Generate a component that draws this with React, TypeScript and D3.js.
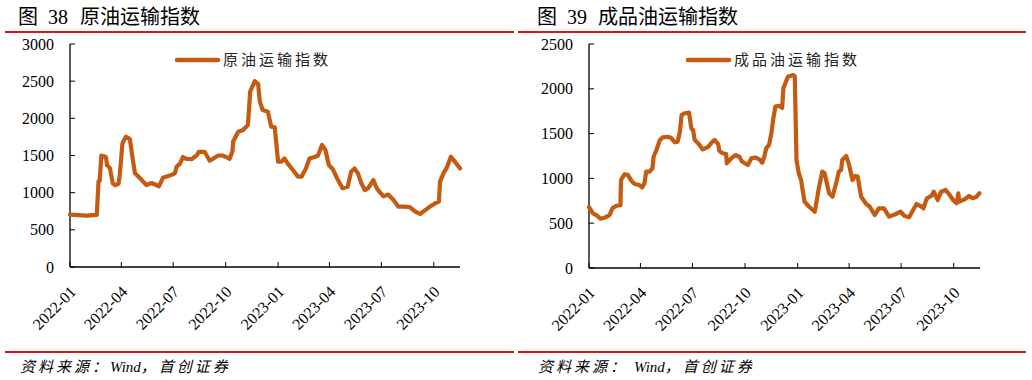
import React from 'react';
import * as d3 from 'd3';

const crudeDates = [
  '2022-01-01','2022-01-30','2022-02-17','2022-02-20','2022-02-22','2022-02-25','2022-03-05','2022-03-07','2022-03-12','2022-03-17',
  '2022-03-21','2022-03-27','2022-03-29','2022-04-03','2022-04-09','2022-04-16','2022-04-21','2022-04-25','2022-05-03','2022-05-15',
  '2022-05-24','2022-06-02','2022-06-06','2022-06-13','2022-06-25','2022-07-04','2022-07-07','2022-07-13','2022-07-18','2022-07-24',
  '2022-08-02','2022-08-11','2022-08-15','2022-08-25','2022-09-03','2022-09-18','2022-09-25','2022-10-02','2022-10-08','2022-10-13',
  '2022-10-14','2022-10-23','2022-10-31','2022-11-09','2022-11-13','2022-11-21','2022-11-27','2022-11-30','2022-12-05','2022-12-14',
  '2022-12-20','2022-12-26','2023-01-01','2023-01-07','2023-01-12','2023-01-18','2023-01-27','2023-02-05','2023-02-11','2023-02-19',
  '2023-02-25','2023-03-06','2023-03-12','2023-03-19','2023-03-25','2023-03-31','2023-04-07','2023-04-16','2023-04-24','2023-05-03',
  '2023-05-09','2023-05-15','2023-05-21','2023-05-27','2023-06-02','2023-06-08','2023-06-17','2023-06-23','2023-06-29','2023-07-05',
  '2023-07-13','2023-07-22','2023-07-31','2023-08-09','2023-08-20','2023-08-29','2023-09-07','2023-09-16','2023-09-24','2023-10-03',
  '2023-10-10','2023-10-12','2023-10-18','2023-10-24','2023-10-31','2023-11-07','2023-11-16'
];
const crudeValues = [
  705, 690, 700, 1150, 1160, 1500, 1480, 1370, 1330, 1126,
  1100, 1120, 1215, 1664, 1753, 1720, 1450, 1260, 1200, 1103,
  1130, 1100, 1085, 1200, 1230, 1260, 1350, 1390, 1480, 1455,
  1450, 1500, 1550, 1550, 1430, 1500, 1500, 1480, 1455, 1560,
  1686, 1820, 1840, 1910, 2359, 2500, 2460, 2224, 2112, 2090,
  1888, 1880, 1417, 1417, 1460, 1390, 1305, 1215, 1215, 1330,
  1460, 1480, 1500, 1641, 1575, 1372, 1315, 1170, 1058, 1080,
  1282, 1325, 1260, 1125, 1035, 1060, 1170, 1060, 1000, 950,
  975, 905, 811, 811, 806, 748, 713, 765, 810, 855,
  880, 1148, 1260, 1340, 1484, 1417, 1327
];

const productDates = [
  '2022-01-01','2022-01-08','2022-01-14','2022-01-21','2022-01-28','2022-02-06','2022-02-11','2022-02-18','2022-02-25','2022-02-26',
  '2022-03-04','2022-03-10','2022-03-16','2022-03-22','2022-03-30','2022-04-04','2022-04-08','2022-04-11','2022-04-17','2022-04-22',
  '2022-04-24','2022-04-29','2022-05-05','2022-05-10','2022-05-19','2022-05-25','2022-05-31','2022-06-05','2022-06-09','2022-06-12',
  '2022-06-17','2022-06-25','2022-06-29','2022-07-02','2022-07-05','2022-07-11','2022-07-19','2022-07-28','2022-08-05','2022-08-09',
  '2022-08-15','2022-08-17','2022-08-23','2022-08-29','2022-08-30','2022-09-07','2022-09-14','2022-09-21','2022-09-26','2022-10-06',
  '2022-10-12','2022-10-19','2022-10-26','2022-10-31','2022-11-04','2022-11-07','2022-11-12','2022-11-16','2022-11-19','2022-11-23',
  '2022-11-29','2022-12-05','2022-12-07','2022-12-15','2022-12-24','2022-12-27','2022-12-30','2023-01-03','2023-01-07','2023-01-13',
  '2023-01-21','2023-01-31','2023-02-07','2023-02-13','2023-02-17','2023-02-25','2023-03-03','2023-03-10','2023-03-14','2023-03-18',
  '2023-03-20','2023-03-27','2023-04-01','2023-04-07','2023-04-12','2023-04-16','2023-04-22','2023-04-30','2023-05-07','2023-05-16',
  '2023-05-23','2023-06-01','2023-06-10','2023-06-20','2023-06-30','2023-07-07','2023-07-15','2023-07-22','2023-07-28','2023-08-04',
  '2023-08-09','2023-08-15','2023-08-23','2023-08-27','2023-09-03','2023-09-09','2023-09-17','2023-09-24','2023-09-30','2023-10-06',
  '2023-10-09','2023-10-11','2023-10-20','2023-10-28','2023-11-03','2023-11-10','2023-11-15'
];
const productValues = [
  680, 610, 591, 550, 560, 591, 666, 695, 700, 982,
  1045, 1040, 975, 937, 926, 900, 945, 1075, 1075, 1112,
  1242, 1317, 1429, 1458, 1465, 1450, 1403, 1410, 1521, 1708,
  1726, 1734, 1559, 1540, 1429, 1391, 1324, 1350, 1410, 1429,
  1380, 1309, 1280, 1272, 1168, 1224, 1261, 1242, 1186, 1150,
  1224, 1233, 1213, 1175, 1250, 1336, 1373, 1503, 1650, 1801,
  1810, 1786, 2005, 2135, 2154, 2140, 1205, 1057, 982, 740,
  684, 628, 889, 1075, 1060, 834, 796, 963, 1075, 1093,
  1205, 1250, 1150, 982, 1027, 1020, 796, 722, 684, 591,
  666, 666, 573, 597, 628, 580, 566, 647, 714, 692,
  666, 778, 804, 852, 759, 852, 871, 815, 759, 722,
  834, 741, 766, 804, 778, 796, 834
];

const xTickLabels = ['2022-01', '2022-04', '2022-07', '2022-10', '2023-01', '2023-04', '2023-07', '2023-10'];
const crudeYTicks = [0, 500, 1000, 1500, 2000, 2500, 3000];
const productYTicks = [0, 500, 1000, 1500, 2000, 2500];

const parse = d3.timeParse('%Y-%m-%d');
const parseMonth = d3.timeParse('%Y-%m');
const LINE = '#c55a11';
const RED = '#d9161c';
const SERIF = '"Liberation Serif", "Times New Roman", serif';
const CJK = '"Noto Sans CJK SC", "Noto Sans", sans-serif';

type PanelProps = {
  dates: string[];
  values: number[];
  yTicks: number[];
  x0: number;
  x1: number;
  yTop: number;
  yBottom: number;
  legend: string;
  legendX: number;
};

function Panel({ dates, values, yTicks, x0, x1, yTop, yBottom, legend, legendX }: PanelProps) {
  const pts = dates.map((d, i) => ({ date: parse(d) as Date, v: values[i] }));
  const x = d3
    .scaleTime()
    .domain([parse('2022-01-01') as Date, parse('2023-11-16') as Date])
    .range([x0, x1]);
  const y = d3
    .scaleLinear()
    .domain([0, d3.max(yTicks) as number])
    .range([yBottom, yTop]);
  const line = d3
    .line<{ date: Date; v: number }>()
    .x((d) => x(d.date))
    .y((d) => y(d.v))
    .curve(d3.curveLinear);
  return (
    <g>
      <line x1={x0} x2={x0} y1={yTop} y2={yBottom} stroke="#000" strokeWidth={1.3} />
      <line x1={x0} x2={x1} y1={yBottom} y2={yBottom} stroke="#000" strokeWidth={1.3} />
      {yTicks.map((t) => (
        <g key={t}>
          <line x1={x0} x2={x0 + 5} y1={y(t)} y2={y(t)} stroke="#000" strokeWidth={1} />
          <text x={x0 - 16} y={y(t)} dy="0.35em" textAnchor="end" fontFamily={SERIF} fontSize={16} fill="#000">
            {t}
          </text>
        </g>
      ))}
      {xTickLabels.map((lab) => {
        const tx = x(parseMonth(lab) as Date);
        return (
          <g key={lab}>
            <line x1={tx} x2={tx} y1={yBottom} y2={yBottom - 5} stroke="#000" strokeWidth={1} />
            <text
              transform={`translate(${tx + 3},${yBottom + 22}) rotate(-45)`}
              textAnchor="end"
              dy="0.35em"
              fontFamily={SERIF}
              fontSize={16}
              fill="#000"
            >
              {lab}
            </text>
          </g>
        );
      })}
      <path d={line(pts) || ''} fill="none" stroke={LINE} strokeWidth={4.2} strokeLinejoin="round" strokeLinecap="round" />
      <line x1={legendX} x2={legendX + 41} y1={60} y2={60} stroke={LINE} strokeWidth={4.5} strokeLinecap="round" />
      <text x={legendX + 46} y={60} dy="0.35em" fontFamily={CJK} fontSize={15} letterSpacing={3} fill="#222">
        {legend}
      </text>
    </g>
  );
}

export default function App() {
  return (
    <svg width={1032} height={380} style={{ position: 'absolute', left: 0, top: 0, background: '#fff' }}>
      <rect x={0} y={0} width={1032} height={380} fill="#fff" />
      <text y={24} fontFamily={CJK} fontSize={20} fill="#000">
        <tspan x={18}>图</tspan>
        <tspan x={48} fontFamily={SERIF}>38</tspan>
        <tspan x={80}>原油运输指数</tspan>
      </text>
      <text y={24} fontFamily={CJK} fontSize={20} fill="#000">
        <tspan x={537}>图</tspan>
        <tspan x={567} fontFamily={SERIF}>39</tspan>
        <tspan x={598}>成品油运输指数</tspan>
      </text>
      <line x1={5} x2={514} y1={32} y2={32} stroke={RED} strokeWidth={2} />
      <line x1={518} x2={1026} y1={32} y2={32} stroke={RED} strokeWidth={2} />
      <Panel
        dates={crudeDates}
        values={crudeValues}
        yTicks={crudeYTicks}
        x0={70}
        x1={460}
        yTop={44}
        yBottom={267}
        legend="原油运输指数"
        legendX={177}
      />
      <Panel
        dates={productDates}
        values={productValues}
        yTicks={productYTicks}
        x0={589}
        x1={980}
        yTop={44}
        yBottom={268}
        legend="成品油运输指数"
        legendX={688}
      />
      <line x1={5} x2={514} y1={352} y2={352} stroke={RED} strokeWidth={2} />
      <line x1={518} x2={1026} y1={352} y2={352} stroke={RED} strokeWidth={2} />
      <text x={20} y={367} dy="0.35em" fontFamily={`${SERIF}`} fontStyle="italic" fontSize={15} fill="#000">
        <tspan fontFamily={CJK} letterSpacing={3}>资料来源：</tspan>
        <tspan>Wind</tspan>
        <tspan fontFamily={CJK} letterSpacing={3}>，首创证券</tspan>
      </text>
      <text x={538} y={367} dy="0.35em" fontFamily={`${SERIF}`} fontStyle="italic" fontSize={15} fill="#000">
        <tspan fontFamily={CJK} letterSpacing={3}>资料来源：</tspan>
        <tspan dx={6}>Wind</tspan>
        <tspan fontFamily={CJK} letterSpacing={3}>，首创证券</tspan>
      </text>
    </svg>
  );
}
